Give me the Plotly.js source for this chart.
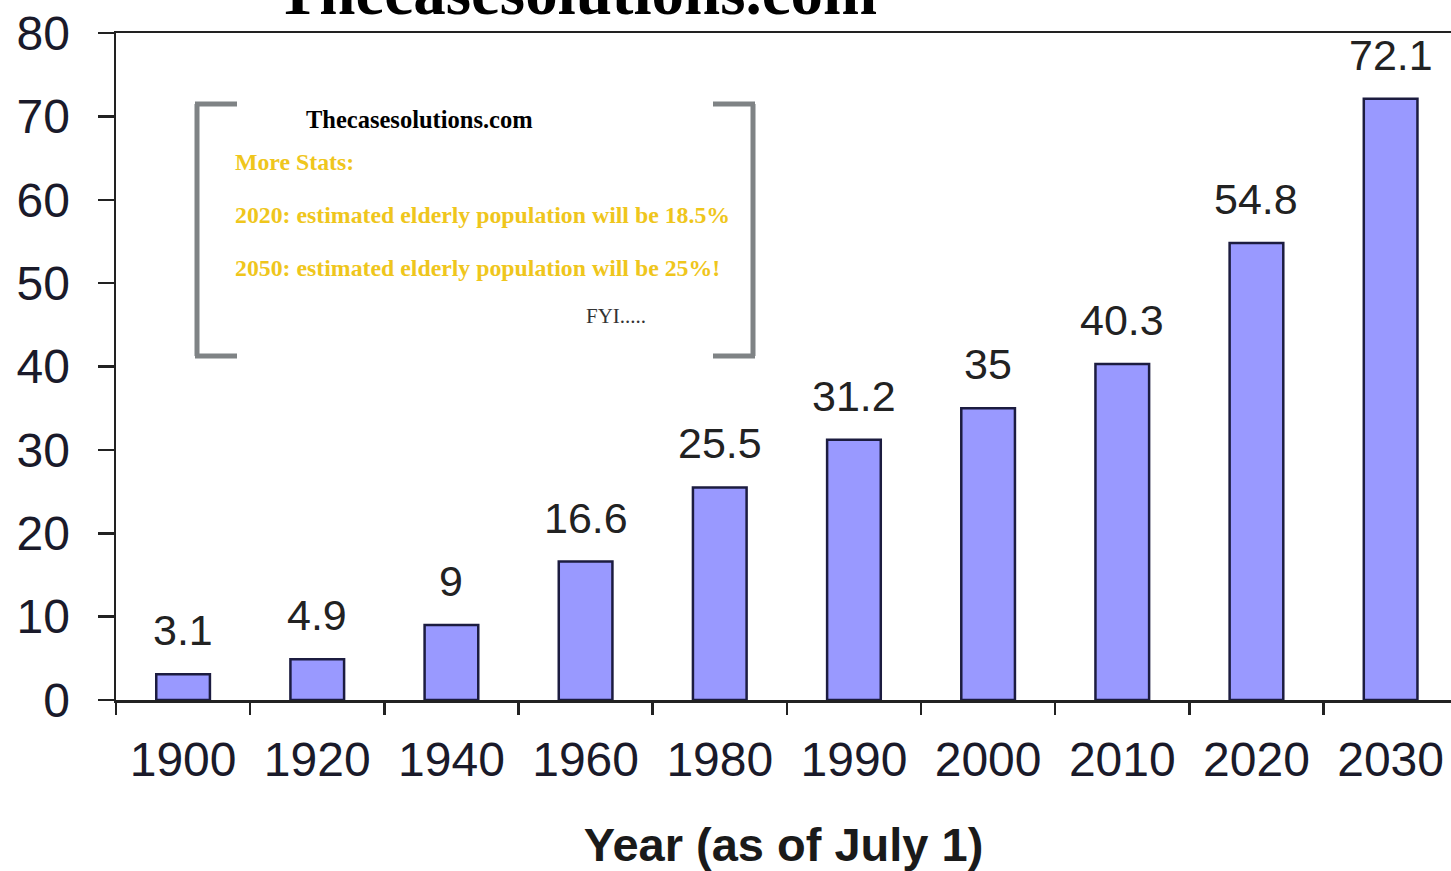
<!DOCTYPE html>
<html>
<head>
<meta charset="utf-8">
<script src="https://cdn.plot.ly/plotly-3.0.1.min.js"></script>
<style>
html,body{margin:0;padding:0;background:#fff;}
#chart{width:1451px;height:871px;}
</style>
</head>
<body>
<div id="chart"></div>
<script>
// Data
const years = ["1900","1920","1940","1960","1980","1990","2000","2010","2020","2030"];
const elderly = [3.1, 4.9, 9, 16.6, 25.5, 31.2, 35, 40.3, 54.8, 72.1];
const yTicks = [0,10,20,30,40,50,60,70,80];
const infoTitle = "Thecasesolutions.com";
const infoLines = ["More Stats:", "2020: estimated elderly population will be 18.5%", "2050: estimated elderly population will be 25%!"];
const fyi = "FYI.....";

// Layout helpers (pixel -> paper)
const L = 116, R = 0, T = 33, B = 171, W = 1451, H = 871;
const pw = W - L - R, ph = H - T - B;
const px = x => (x - L) / pw;
const py = y => (H - B - y) / ph;

const trace = {
  type: 'bar',
  x: years,
  y: elderly,
  marker: {color: '#9999ff', line: {color: '#1c1c40', width: 2.5}},
  hoverinfo: 'x+y'
};

// value labels above bars (x given as category index)
const annotations = years.map((yr, i) => ({
  x: i, y: elderly[i], xref: 'x', yref: 'y',
  text: String(elderly[i]), showarrow: false,
  yanchor: 'bottom', yshift: 18,
  font: {family: 'Liberation Sans, Arial, sans-serif', size: 43, color: '#222'}
}));

// Big clipped title
annotations.push({
  xref: 'paper', yref: 'paper', x: px(576), y: py(30), xanchor: 'center', yanchor: 'bottom',
  text: '<b>' + infoTitle + '</b>', showarrow: false,
  font: {family: 'Liberation Serif, Times New Roman, serif', size: 65, color: '#000'}
});
// Info box texts
annotations.push({
  xref: 'paper', yref: 'paper', x: px(419), y: py(119), xanchor: 'center', yanchor: 'middle',
  text: '<b>' + infoTitle + '</b>', showarrow: false,
  font: {family: 'Liberation Serif, Times New Roman, serif', size: 24.5, color: '#000'}
});
const lineY = [162, 215, 268];
infoLines.forEach((t, i) => annotations.push({
  xref: 'paper', yref: 'paper', x: px(233), y: py(lineY[i]), xanchor: 'left', yanchor: 'middle',
  text: '<b>' + t + '</b>', showarrow: false,
  font: {family: 'Liberation Serif, Times New Roman, serif', size: 23.8, color: '#efc61c'}
}));
annotations.push({
  xref: 'paper', yref: 'paper', x: px(584), y: py(316), xanchor: 'left', yanchor: 'middle',
  text: fyi, showarrow: false,
  font: {family: 'Liberation Serif, Times New Roman, serif', size: 21, color: '#333'}
});

const bc = '#7f8385', bw = 5;
const shapes = [
  // left bracket
  {type:'line', xref:'paper', yref:'paper', x0:px(197), x1:px(197), y0:py(104), y1:py(356), line:{color:bc,width:bw}},
  {type:'line', xref:'paper', yref:'paper', x0:px(195), x1:px(237), y0:py(104), y1:py(104), line:{color:bc,width:bw}},
  {type:'line', xref:'paper', yref:'paper', x0:px(195), x1:px(237), y0:py(356), y1:py(356), line:{color:bc,width:bw}},
  // right bracket
  {type:'line', xref:'paper', yref:'paper', x0:px(753), x1:px(753), y0:py(104), y1:py(356), line:{color:bc,width:bw}},
  {type:'line', xref:'paper', yref:'paper', x0:px(713), x1:px(755), y0:py(104), y1:py(104), line:{color:bc,width:bw}},
  {type:'line', xref:'paper', yref:'paper', x0:px(713), x1:px(755), y0:py(356), y1:py(356), line:{color:bc,width:bw}}
];

const layout = {
  width: W, height: H,
  margin: {l: L, r: R, t: T, b: B, pad: 0},
  paper_bgcolor: '#fff', plot_bgcolor: '#fff',
  showlegend: false,
  bargap: 0.6,
  xaxis: {
    type: 'category', range: [-0.5, years.length - 0.55], autorange: false,
    tickangle: 0,
    showline: true, linecolor: '#222', linewidth: 2.5,
    mirror: true,
    ticks: 'outside', tickson: 'boundaries', ticklen: 12, tickwidth: 2.5, tickcolor: '#222',
    tickfont: {family: 'Liberation Sans, Arial, sans-serif', size: 48, color: '#1a1a2a'},
    ticklabelstandoff: 16,
    showgrid: false, zeroline: false,
    title: {text: '<b>Year (as of July 1)</b>', standoff: 46,
            font: {family: 'Liberation Sans, Arial, sans-serif', size: 47, color: '#1a1a1a'}}
  },
  yaxis: {
    range: [0, 80], autorange: false, tickvals: yTicks, ticktext: yTicks.map(String),
    showline: true, linecolor: '#222', linewidth: 2.5,
    ticks: 'outside', ticklen: 16, tickwidth: 2.5, tickcolor: '#222',
    tickfont: {family: 'Liberation Sans, Arial, sans-serif', size: 48, color: '#1a1a2a'},
    ticklabelstandoff: 18,
    showgrid: false, zeroline: false
  },
  annotations: annotations,
  shapes: shapes
};

Plotly.newPlot('chart', [trace], layout, {displayModeBar: false, staticPlot: true});
</script>
</body>
</html>
